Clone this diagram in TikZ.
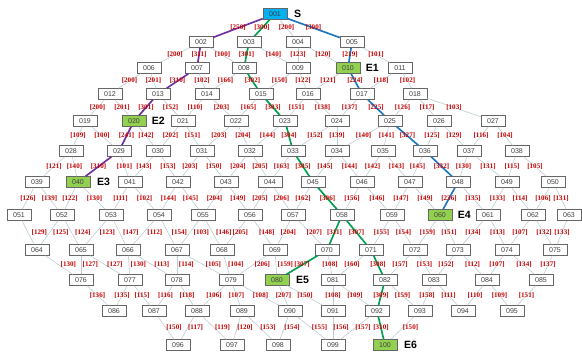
\documentclass[tikz,border=0pt]{standalone}
\usepackage{fontspec}
\setmainfont{Liberation Serif}
\setsansfont{Liberation Sans}
\usetikzlibrary{positioning}

\definecolor{startblue}{RGB}{0,176,240}
\definecolor{goalgreen}{RGB}{146,208,80}
\definecolor{linkgray}{RGB}{188,204,210}
\definecolor{wtred}{RGB}{196,0,0}
\definecolor{routepurple}{RGB}{112,48,160}
\definecolor{routegreen}{RGB}{0,160,80}
\definecolor{routeblue}{RGB}{30,118,192}

\begin{document}
\begin{tikzpicture}[x=0.03cm, y=-0.03cm,
    % Styles
    box/.style={rectangle, draw=black!60, fill=white, minimum width=0.72cm, minimum height=0.33cm, inner sep=0pt, font=\sffamily\fontsize{6}{7}\selectfont, text=black!75},
    start/.style={box, fill=startblue},
    goal/.style={box, fill=goalgreen},
    tag/.style={font=\sffamily\bfseries\fontsize{9}{10}\selectfont, inner sep=0pt},
    link/.style={draw=linkgray, line width=0.5pt},
    route/.style={line width=1.4pt},
    wt/.style={font=\bfseries\fontsize{6}{7}\selectfont, text=wtred, inner sep=0.5pt},
]
\path[fill=white, use as bounding box] (0,0) rectangle (582,357);

% === BOXES, row by row ===
\node[start] (n001) at (275,14) {001};
\foreach \id/\px in {002/201,003/249,004/298,005/352} \node[box] (n\id) at (\px,42) {\id};
\foreach \id/\px in {006/149,007/197,008/244,009/298,011/400} \node[box] (n\id) at (\px,68) {\id};
\node[goal] (n010) at (348,68) {010};
\foreach \id/\px in {012/110,013/158,014/207,015/261,016/308,017/362,018/415} \node[box] (n\id) at (\px,94) {\id};
\foreach \id/\px in {019/85,021/183,022/236,023/285,024/337,025/390,026/439,027/493} \node[box] (n\id) at (\px,121) {\id};
\node[goal] (n020) at (134,121) {020};
\foreach \id/\px in {028/71,029/119,030/158,031/202,032/250,033/293,034/337,035/383,036/425,037/469,038/517} \node[box] (n\id) at (\px,151) {\id};
\foreach \id/\px in {039/37,041/130,042/178,043/226,044/270,045/313,046/362,047/410,048/458,049/507,050/553} \node[box] (n\id) at (\px,182) {\id};
\node[goal] (n040) at (78,182) {040};
\foreach \id/\px in {051/19,052/62,053/111,054/159,055/203,056/250,057/293,058/342,059/392,061/488,062/533,063/569} \node[box] (n\id) at (\px,215) {\id};
\node[goal] (n060) at (440,215) {060};
\foreach \id/\px in {064/37,065/81,066/128,067/177,068/222,069/275,070/327,071/371,072/415,073/458,074/507,075/555} \node[box] (n\id) at (\px,250) {\id};
\foreach \id/\px in {076/81,077/130,078/177,079/231,081/333,082/385,083/434,084/487,085/541} \node[box] (n\id) at (\px,280) {\id};
\node[goal] (n080) at (277,280) {080};
\foreach \id/\px in {086/114,087/154,088/197,089/242,090/290,091/333,092/377,093/420,094/463,095/512} \node[box] (n\id) at (\px,311) {\id};
\foreach \id/\px in {096/178,097/232,098/278,099/333} \node[box] (n\id) at (\px,345) {\id};
\node[goal] (n100) at (385,345) {100};

% Tags
\node[tag, right=2mm of n001] (s) {S};
\node[tag, right=1.6mm of n010] (e1) {E1};
\node[tag, right=1.6mm of n020] (e2) {E2};
\node[tag, right=2mm of n040] (e3) {E3};
\node[tag, right=1.6mm of n060] (e4) {E4};
\node[tag, right=2mm of n080] (e5) {E5};
\node[tag, right=2mm of n100] (e6) {E6};

% === LINKS ===
\foreach \a/\b/\w in {001/004/200,
    002/006/200, 002/008/100, 003/009/140, 004/009/123, 004/010/120, 005/011/101,
    006/012/200, 006/013/201, 007/014/102, 008/014/166, 009/015/150, 009/016/122, 010/016/121, 011/017/118, 011/018/102,
    012/019/200, 012/020/201, 013/021/152, 014/021/110, 014/022/203, 015/022/165, 016/023/151, 016/024/138, 017/024/137, 018/025/126, 018/026/117, 018/027/103,
    019/028/109, 019/029/100, 020/030/142, 021/030/202, 021/031/151, 022/031/203, 022/032/204, 023/032/144, 024/033/152, 024/034/139, 025/034/140, 025/035/141, 026/036/125, 026/037/129, 027/037/116, 027/038/104,
    028/039/121, 028/040/140, 029/041/101, 030/041/143, 030/042/153, 031/042/203, 031/043/150, 032/043/204, 032/044/205, 033/044/163, 034/045/145, 034/046/144, 035/046/142, 035/047/143, 036/047/145, 037/048/130, 037/049/131, 038/049/115, 038/050/105,
    039/051/126, 039/052/139, 040/052/122, 040/053/130, 041/053/111, 041/054/102, 042/054/144, 042/055/145, 043/055/204, 043/056/149, 044/056/205, 044/057/206, 045/057/162, 046/058/156, 046/059/146, 047/059/147, 047/060/149, 048/061/135, 049/061/133, 049/062/114, 050/062/106, 050/063/131,
    059/071/155, 059/072/154, 060/072/159, 060/073/151, 061/073/134, 061/074/113, 062/074/107, 062/075/132, 063/075/133,
    070/081/108, 071/081/160, 072/082/157, 072/083/153, 073/083/152, 073/084/112, 074/084/107, 074/085/134, 075/085/137,
    076/086/136, 077/086/135, 077/087/115, 078/087/116, 078/088/118, 079/088/106, 079/089/107, 079/090/108, 080/090/207, 080/091/150, 081/091/108, 081/092/109, 082/093/159, 083/093/158, 083/094/111, 084/094/110, 084/095/109, 085/095/151}
    \draw[link] (n\a) -- node[wt] {[\w]} (n\b);

% lower left links: weights sit a little right of the middle
\foreach \a/\b/\w in {051/064/129, 052/064/125, 052/065/124, 053/065/123, 053/066/147, 054/066/112, 054/067/154, 055/067/103, 055/068/146}
    \draw[link] (n\a) -- node[wt, xshift=3.4mm] {[\w]} (n\b);
\foreach \a/\b/\w in {056/068/205, 056/069/148, 057/069/204, 057/070/207}
    \draw[link] (n\a) -- node[wt, xshift=1.3mm] {[\w]} (n\b);
\foreach \a/\b/\w in {064/076/130, 065/076/127, 065/077/127, 066/077/130, 066/078/113, 067/078/114, 067/079/105, 068/079/104, 069/079/206, 069/080/159}
    \draw[link] (n\a) -- node[wt, xshift=2.8mm] {[\w]} (n\b);
\foreach \a/\b/\w in {087/096/150, 088/096/117, 088/097/119, 089/097/120, 089/098/153, 090/098/154, 090/099/155, 091/099/156, 092/099/157, 093/100/150}
    \draw[link] (n\a) -- node[wt, xshift=2.4mm] {[\w]} (n\b);

% === ROUTES ===
\draw[route, routepurple] (n001) -- node[wt] {[250]} (n002) -- node[wt] {[311]} (n007) -- node[wt] {[310]} (n013)
    -- node[wt] {[301]} (n020) -- node[wt] {[241]} (n029) -- node[wt] {[310]} (n040);
\draw[route, routegreen] (n001) -- node[wt] {[300]} (n003) -- node[wt] {[301]} (n008) -- node[wt] {[302]} (n015)
    -- node[wt] {[303]} (n023) -- node[wt] {[304]} (n033) -- node[wt] {[305]} (n045) -- node[wt] {[306]} (n058)
    -- node[wt] {[311]} (n070) -- node[wt] {[307]} (n080);
\draw[route, routegreen] (n058) -- node[wt] {[307]} (n071) -- node[wt] {[308]} (n082) -- node[wt] {[309]} (n092)
    -- node[wt] {[310]} (n100);
\draw[route, routeblue] (n001) -- node[wt] {[300]} (n005) -- node[wt] {[219]} (n010) -- node[wt] {[224]} (n017)
    -- node[wt] {[225]} (n025) -- node[wt] {[327]} (n036) -- node[wt] {[332]} (n048) -- node[wt] {[236]} (n060);

\end{tikzpicture}
\end{document}
